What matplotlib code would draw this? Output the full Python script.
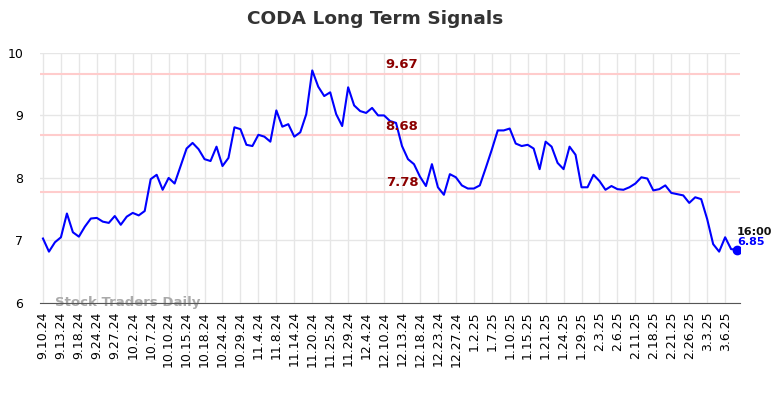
import numpy as np
import matplotlib
matplotlib.use("Agg")
import matplotlib.pyplot as plt

# Closing prices (one per trading day)
prices = [
    7.03, 6.82, 6.97, 7.05, 7.43, 7.13, 7.06, 7.22, 7.35, 7.36,
    7.30, 7.28, 7.39, 7.25, 7.38, 7.44, 7.40, 7.47, 7.98, 8.05,
    7.81, 8.00, 7.91, 8.19, 8.47, 8.56, 8.46, 8.30, 8.27, 8.50,
    8.19, 8.32, 8.81, 8.78, 8.53, 8.51, 8.69, 8.66, 8.58, 9.08,
    8.82, 8.86, 8.66, 8.73, 9.02, 9.72, 9.46, 9.31, 9.37, 9.02,
    8.83, 9.45, 9.16, 9.07, 9.04, 9.12, 9.00, 9.00, 8.91, 8.88,
    8.51, 8.30, 8.22, 8.02, 7.87, 8.22, 7.85, 7.73, 8.06, 8.01,
    7.88, 7.83, 7.83, 7.88, 8.16, 8.45, 8.76, 8.76, 8.79, 8.55,
    8.51, 8.53, 8.47, 8.14, 8.58, 8.50, 8.24, 8.14, 8.50, 8.37,
    7.85, 7.85, 8.05, 7.95, 7.81, 7.87, 7.82, 7.81, 7.85, 7.91,
    8.01, 7.99, 7.80, 7.82, 7.88, 7.76, 7.74, 7.72, 7.60, 7.69,
    7.66, 7.34, 6.94, 6.82, 7.05, 6.86, 6.85,
]

tick_labels = [
    "9.10.24", "9.13.24", "9.18.24", "9.24.24", "9.27.24", "10.2.24",
    "10.7.24", "10.10.24", "10.15.24", "10.18.24", "10.24.24", "10.29.24",
    "11.4.24", "11.8.24", "11.14.24", "11.20.24", "11.25.24", "11.29.24",
    "12.4.24", "12.10.24", "12.13.24", "12.18.24", "12.23.24", "12.27.24",
    "1.2.25", "1.7.25", "1.10.25", "1.15.25", "1.21.25", "1.24.25",
    "1.29.25", "2.3.25", "2.6.25", "2.11.25", "2.18.25", "2.21.25",
    "2.26.25", "3.3.25", "3.6.25",
]

levels = [9.67, 8.68, 7.78]
last_time = "16:00"

x = np.arange(len(prices))
tick_pos = np.arange(len(tick_labels)) * 3

fig = plt.figure(figsize=(7.84, 3.98), dpi=100)
ax = fig.add_axes([0.051, 0.239, 0.893, 0.628])

ax.plot(x, prices, color="#0000ff", linewidth=1.5, zorder=3)
ax.plot(x[-1], prices[-1], "o", color="#0000ff", markersize=6, zorder=4)

for lv in levels:
    ax.axhline(lv, color="#ffcccc", linewidth=1.5, zorder=2)
    ax.text(60, lv + 0.04, f"{lv:.2f}", color="#8b0000", fontsize=9.5,
            fontweight="bold", ha="center", va="bottom", zorder=5)

ax.text(x[-1], prices[-1] + 0.2, last_time, color="#111111", fontsize=8,
        fontweight="bold", ha="left", va="bottom")
ax.text(x[-1], prices[-1] + 0.05, f"{prices[-1]:.2f}", color="#0000ff",
        fontsize=8, fontweight="bold", ha="left", va="bottom")

ax.text(2, 6.0, "Stock Traders Daily", color="#aaaaaa", fontsize=9.5,
        fontweight="bold", ha="left", va="center", zorder=1)

ax.set_xlim(-0.5, len(prices) - 0.5)
ax.set_ylim(6, 10)
ax.set_yticks([6, 7, 8, 9, 10])
ax.set_xticks(tick_pos)
ax.set_xticklabels(tick_labels, rotation=90, fontsize=9)
ax.tick_params(axis="y", labelsize=9, length=0, pad=12)
ax.tick_params(axis="x", length=0, pad=6)

ax.grid(color="#e6e6e6", linewidth=1)
ax.set_axisbelow(True)
for side in ["top", "right", "left"]:
    ax.spines[side].set_visible(False)
ax.spines["bottom"].set_color("#555555")

fig.suptitle("CODA Long Term Signals", x=0.478, y=0.975, fontsize=13.3,
             fontweight="bold", color="#333333")

fig.savefig("out.png", dpi=100)
